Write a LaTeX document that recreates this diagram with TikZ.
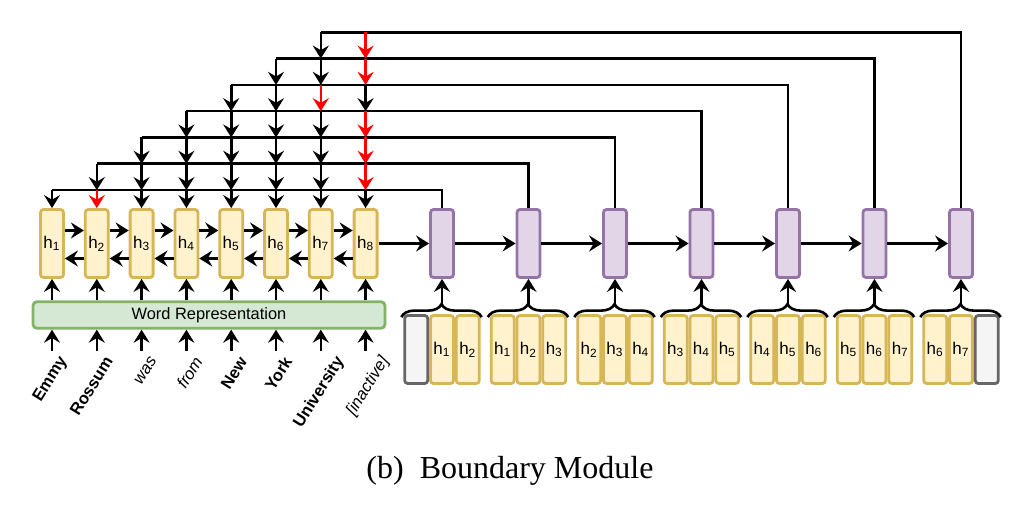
\documentclass[tikz,border=0pt]{standalone}
\usepackage{fontspec}
\setmainfont{Liberation Sans}
\newfontfamily\capfont{Liberation Serif}
\usetikzlibrary{arrows.meta}
\usetikzlibrary{decorations.pathreplacing}
\definecolor{hfill}{HTML}{FFF2CC}
\definecolor{hdraw}{HTML}{D6B656}
\definecolor{bfill}{HTML}{E1D5E7}
\definecolor{bdraw}{HTML}{9673A6}
\definecolor{gfill}{HTML}{F5F5F5}
\definecolor{gdraw}{HTML}{666666}
\definecolor{wfill}{HTML}{D5E8D4}
\definecolor{wdraw}{HTML}{82B366}
\tikzstyle{hcell}=[draw=hdraw,fill=hfill,line width=1.4pt,rounded corners=1.5pt,minimum width=11.5pt,minimum height=34pt,inner sep=0pt,font=\fontsize{8.5}{9}\selectfont]
\tikzstyle{bcell}=[hcell,draw=bdraw,fill=bfill]
\tikzstyle{gcell}=[hcell,draw=gdraw,fill=gfill]
\tikzstyle{wire}=[line width=1.3pt]
\tikzstyle{link}=[wire,-{Stealth[length=6.5pt,width=8pt,inset=2.3pt]}]
\tikzstyle{bracket}=[wire,decorate,decoration={brace,amplitude=6.5pt}]
\tikzstyle{word}=[inner sep=0pt,rotate=58,anchor=east,font=\fontsize{8.3}{9}\selectfont]

\begin{document}
\begin{tikzpicture}[x=0.5pt,y=-0.5pt]
  \useasboundingbox (0,0) rectangle (1024,517);
  % rows of the feedback lines
  \foreach \i in {1,...,7}
    \coordinate (L\i) at (0,{32.3+26.3*(\i-1)});
  \coordinate (wtail) at (0,351);
  \coordinate (wend) at (0,358);

  % encoder cells
  \foreach \j in {1,...,8}
    \node[hcell] (h\j) at ({52+44.8*(\j-1)},243.5) {h\textsubscript{\j}};
  \foreach \j [count=\n from 2] in {1,...,7} {
    \draw[link] ([yshift=6.5pt]h\j.east) -- ([yshift=6.5pt]h\n.west);
    \draw[link] ([yshift=-7.5pt]h\n.west) -- ([yshift=-7.5pt]h\j.east);
  }

  % boundary cells
  \foreach \k in {1,...,7}
    \node[bcell] (b\k) at ({442+86.5*(\k-1)},243.5) {};
  \draw[link] (h8.east) -- (b1.west);
  \foreach \k [count=\n from 2] in {1,...,6}
    \draw[link] (b\k.east) -- (b\n.west);

  % lines back to the encoder
  \foreach \k in {1,...,7} {
    \pgfmathtruncatemacro{\i}{8-\k}
    \draw[wire] (b\k.north) |- (h\k.north |- L\i);
  }
  \foreach \j in {1,...,8} {
    \pgfmathtruncatemacro{\s}{\j<8 ? 8-\j : 1}
    \foreach \i in {1,...,7} {
      \ifnum\i<\s\else
        \pgfmathtruncatemacro{\n}{\i+1}
        \pgfmathtruncatemacro{\hot}{(\j==8 && \i!=3 && \i!=7) || (\j==7 && \i==3) || (\j==2 && \i==7)}
        \ifnum\hot=1 \def\ink{red}\else\def\ink{black}\fi
        \ifnum\i=7 \def\tip{h\j.north}\else\def\tip{h\j.north |- L\n}\fi
        \draw[link,\ink] (h\j.north |- L\i) -- (\tip);
      \fi
    }
  }

  % word representation
  \node[draw=wdraw,fill=wfill,line width=1.4pt,rounded corners=2pt,minimum width=176pt,minimum height=13.3pt,inner sep=0pt,font=\fontsize{8.2}{9}\selectfont] (wr) at (209,315) {Word Representation};
  \foreach \j/\w/\f/\d in {1/Emmy/\bfseries/0, 2/Rossum/\bfseries/0, 3/was/\itshape/0, 4/from/\itshape/0, 5/New/\bfseries/0, 6/York/\bfseries/0, 7/University/\bfseries/4, 8/[inactive]/\itshape/4} {
    \draw[link] (h\j.south |- wr.north) -- (h\j.south);
    \draw[link] (h\j.south |- wtail) -- (h\j.south |- wr.south);
    \node[word] (w\j) at ([xshift=6pt+\d pt]h\j.south |- wend) {\f\w};
  }

  % windows under the boundary cells
  \foreach \k in {1,...,7} {
    \foreach \m in {1,2,3} {
      \pgfmathtruncatemacro{\q}{\k+\m-2}
      \pgfmathsetmacro{\sx}{442+86.5*(\k-1)+25.8*(\m-2)}
      \ifnum\q=0 \node[gcell] (s\k-\m) at (\sx,349.5) {};
      \else\ifnum\q=8 \node[gcell] (s\k-\m) at (\sx,349.5) {};
      \else \node[hcell] (s\k-\m) at (\sx,349.5) {h\textsubscript{\q}};
      \fi\fi
    }
    \draw[bracket] ([xshift=-1pt,yshift=-1.5pt]s\k-1.north west) -- ([xshift=0.5pt,yshift=-1.5pt]s\k-3.north east);
    \coordinate (tip\k) at ([yshift=5pt]s\k-2.north);
    \draw[link] (tip\k) -- (b\k.south);
  }

  \node[font=\capfont\fontsize{16}{19}\selectfont,anchor=base] (cap) at (510,478.3) {(b)~~Boundary Module};
\end{tikzpicture}
\end{document}
